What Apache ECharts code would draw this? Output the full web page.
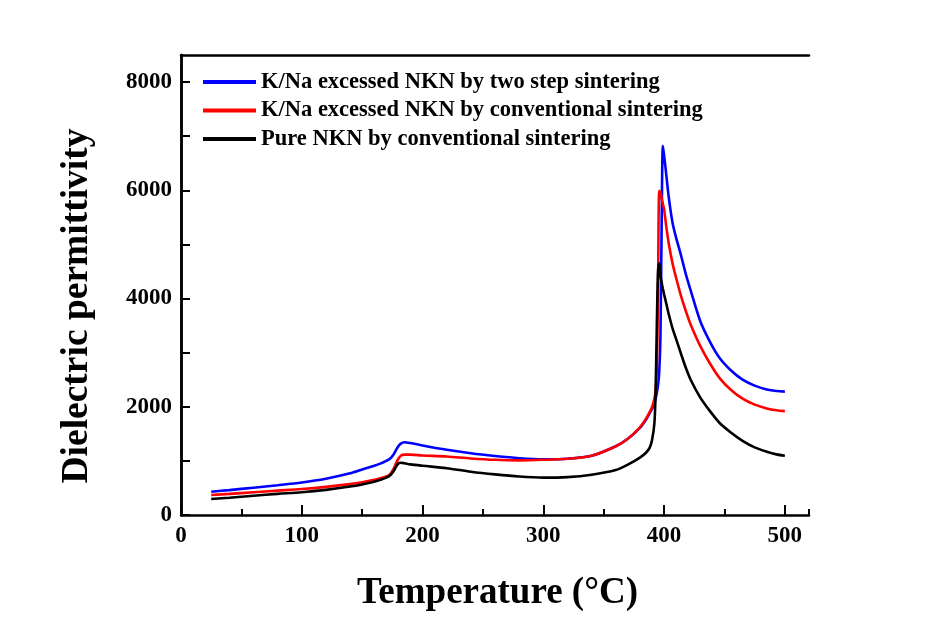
<!DOCTYPE html>
<html>
<head>
<meta charset="utf-8">
<script src="https://cdn.jsdelivr.net/npm/echarts@6/dist/echarts.min.js"></script>
<style>html,body{margin:0;padding:0;background:#fff}#c{width:931px;height:623px}</style>
</head>
<body>
<div id="c"></div>
<script>
const temps = [25,40,60,80,100,120,140,150,160,165,170,173,176,178,180,182,185,190,200,220,240,260,280,300,320,340,360,370,380,385,388,390,392,393,394,395,396,397,398,399,400,402,404,407,410,414,418,422,430,438,446,455,465,475,485,493,500];

const blueTwoStep = [430,460,505,550,600,670,770,840,910,950,1000,1040,1120,1200,1270,1320,1345,1330,1285,1205,1140,1090,1050,1030,1040,1095,1270,1410,1610,1760,1880,1960,2060,2150,2260,2400,2650,3300,5400,6820,6650,6250,5850,5400,5120,4800,4450,4150,3580,3200,2900,2680,2500,2390,2320,2290,2280];

const redConventional = [370,390,420,450,480,520,570,605,650,680,710,750,850,950,1040,1095,1115,1115,1100,1080,1045,1020,1010,1020,1040,1095,1270,1410,1620,1780,1900,1990,2150,2300,2700,4200,5990,5950,5850,5750,5650,5300,5000,4650,4380,4050,3770,3520,3120,2800,2530,2320,2150,2040,1970,1935,1920];

const blackPure = [295,320,357,390,420,465,525,565,615,650,690,730,810,890,950,965,955,935,910,865,800,750,710,690,700,745,830,930,1060,1150,1240,1380,1700,2300,3500,4500,4650,4420,4290,4180,4080,3890,3700,3450,3250,2980,2720,2500,2170,1920,1700,1530,1370,1250,1170,1120,1095];

const seriesNames = [
  'K/Na excessed NKN by two step sintering',
  'K/Na excessed NKN by conventional sintering',
  'Pure NKN by conventional sintering'
];
const xTicks = [0,100,200,300,400,500];
const yTicks = [0,2000,4000,6000,8000];

const font = '"Liberation Serif", "Times New Roman", serif';
const chart = echarts.init(document.getElementById('c'), null, {renderer:'canvas'});

function mk(name, vals, color) {
  return {
    name: name, type: 'line', xAxisIndex: 0, yAxisIndex: 0,
    data: temps.map((t, i) => [t, vals[i]]),
    showSymbol: false, symbol: 'none', smooth: 0.3,
    lineStyle: {color: color, width: 2.6},
    itemStyle: {color: color},
    z: 5
  };
}

const axisLineStyle = {color: '#000', width: 2.5};

chart.setOption({
  animation: false,
  backgroundColor: '#fff',
  grid: {left: 181, right: 122, top: 55, bottom: 108, containLabel: false},
  legend: {
    orient: 'vertical', left: 203, top: 70.5, itemGap: 5.5, padding: 0,
    itemWidth: 53, itemHeight: 4, icon: 'rect',
    textStyle: {fontFamily: font, fontWeight: 'bold', fontSize: 22.5, color: '#000', lineHeight: 22.5},
    data: seriesNames
  },
  xAxis: [
    {
      type: 'value', position: 'bottom', min: 0, max: 520, interval: 100,
      axisLine: {show: true, lineStyle: axisLineStyle},
      axisTick: {show: true, inside: true, length: 10, lineStyle: {color: '#000', width: 2}},
      axisLabel: {
        show: true, margin: 10, fontFamily: font, fontWeight: 'bold', fontSize: 23, color: '#000',
        showMaxLabel: false,
        formatter: v => (xTicks.indexOf(v) >= 0 ? String(v) : '')
      },
      splitLine: {show: false}
    },
    {
      type: 'value', position: 'bottom', min: 0, max: 520, interval: 50,
      axisLine: {show: false},
      axisTick: {show: true, inside: true, length: 6, lineStyle: {color: '#000', width: 2}},
      axisLabel: {show: false},
      splitLine: {show: false}
    },
    {
      type: 'value', position: 'top', min: 0, max: 520, interval: 100,
      axisLine: {show: true, lineStyle: axisLineStyle},
      axisTick: {show: false}, axisLabel: {show: false}, splitLine: {show: false}
    }
  ],
  yAxis: [
    {
      type: 'value', position: 'left', min: 0, max: 8500, interval: 1000,
      axisLine: {show: true, lineStyle: axisLineStyle},
      axisTick: {show: true, inside: true, length: 9, lineStyle: {color: '#000', width: 2}},
      axisLabel: {
        show: true, margin: 9, fontFamily: font, fontWeight: 'bold', fontSize: 23, color: '#000',
        showMaxLabel: false,
        formatter: v => (yTicks.indexOf(v) >= 0 ? String(v) : '')
      },
      splitLine: {show: false}
    },
    {
      type: 'value', position: 'right', min: 0, max: 8500, interval: 1000,
      axisLine: {show: true, lineStyle: axisLineStyle},
      axisTick: {show: false}, axisLabel: {show: false}, splitLine: {show: false}
    }
  ],
  graphic: [
    {
      type: 'text', x: 497.5, y: 593,
      style: {text: 'Temperature (°C)', font: 'bold 37px ' + font, fill: '#000',
              align: 'center', verticalAlign: 'middle'}
    },
    {
      type: 'text', x: 77, y: 306, rotation: Math.PI / 2,
      style: {text: 'Dielectric permittivity', font: 'bold 37.5px ' + font, fill: '#000',
              align: 'center', verticalAlign: 'middle'}
    }
  ],
  series: [
    mk(seriesNames[0], blueTwoStep, '#0000ff'),
    mk(seriesNames[1], redConventional, '#ff0000'),
    mk(seriesNames[2], blackPure, '#000000')
  ]
});
</script>
</body>
</html>
